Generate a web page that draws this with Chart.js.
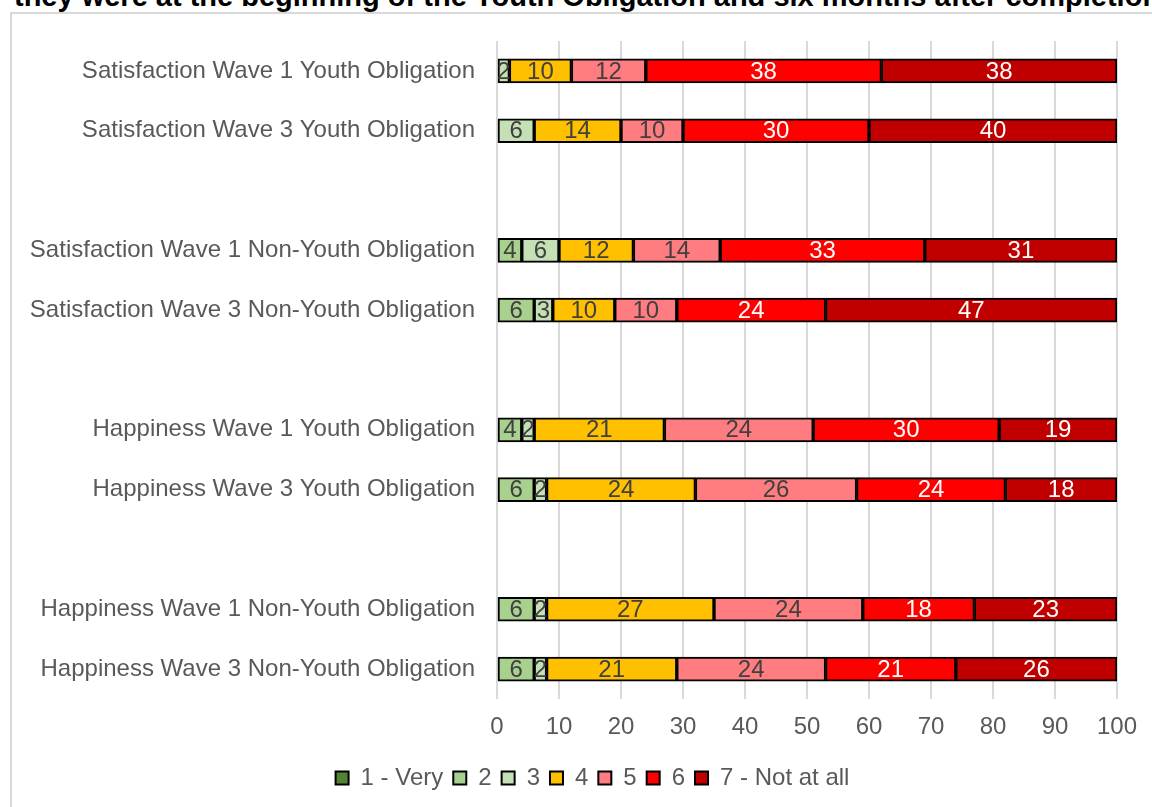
<!DOCTYPE html>
<html>
<head>
<meta charset="utf-8">
<script src="https://cdn.jsdelivr.net/npm/chart.js@4/dist/chart.umd.min.js"></script>
<style>
  html, body { margin: 0; padding: 0; background: #fff; overflow: hidden; }
  #wrap { position: relative; width: 1152px; height: 807px; }
  #frame { position: absolute; left: 10px; top: 12px; width: 1200px; height: 900px; border: 2px solid #D9D9D9; box-sizing: border-box; }
  #title { position: absolute; left: 14px; top: -20px; white-space: nowrap; font: bold 29px "Liberation Sans", Arial, sans-serif; line-height: 32px; color: #000; }
  #chart { position: absolute; left: 0; top: 0; }
</style>
</head>
<body>
<div id="wrap">
  <div id="frame"></div>
  <div id="title">they were at the beginning of the Youth Obligation and six months after completion</div>
  <canvas id="chart" width="1152" height="807"></canvas>
</div>
<script>
// categories (blank entries are the gaps between groups)
const categories = [
    "Satisfaction Wave 1 Youth Obligation",
    "Satisfaction Wave 3 Youth Obligation",
    "",
    "Satisfaction Wave 1 Non-Youth Obligation",
    "Satisfaction Wave 3 Non-Youth Obligation",
    "",
    "Happiness Wave 1 Youth Obligation",
    "Happiness Wave 3 Youth Obligation",
    "",
    "Happiness Wave 1 Non-Youth Obligation",
    "Happiness Wave 3 Non-Youth Obligation"
];

const seriesNames = ["1 - Very", "2", "3", "4", "5", "6", "7 - Not at all"];
const seriesColors = ["#548235", "#A9D18E", "#C5E0B4", "#FFC000", "#FF7C80", "#FF0000", "#C00000"];
const labelColors = ["#404040", "#404040", "#404040", "#404040", "#404040", "#FFFFFF", "#FFFFFF"];

// percentages per series, one entry per category
const s1 = [0, 0, null, 0, 0, null, 0, 0, null, 0, 0];
const s2 = [0, 0, null, 4, 6, null, 4, 6, null, 6, 6];
const s3 = [2, 6, null, 6, 3, null, 2, 2, null, 2, 2];
const s4 = [10, 14, null, 12, 10, null, 21, 24, null, 27, 21];
const s5 = [12, 10, null, 14, 10, null, 24, 26, null, 24, 24];
const s6 = [38, 30, null, 33, 24, null, 30, 24, null, 18, 21];
const s7 = [38, 40, null, 31, 47, null, 19, 18, null, 23, 26];
const seriesValues = [s1, s2, s3, s4, s5, s6, s7];

const xTicks = [0, 10, 20, 30, 40, 50, 60, 70, 80, 90, 100];

const FONT = '"Liberation Sans", Arial, sans-serif';

// draws the value in the middle of each segment
const segmentLabels = {
    id: "segmentLabels",
    afterDatasetsDraw(chart) {
        const ctx = chart.ctx;
        ctx.save();
        ctx.font = "24px " + FONT;
        ctx.textAlign = "center";
        ctx.textBaseline = "middle";
        chart.data.datasets.forEach((ds, i) => {
            const meta = chart.getDatasetMeta(i);
            meta.data.forEach((bar, j) => {
                const v = ds.data[j];
                if (!v) return;
                ctx.fillStyle = labelColors[i];
                ctx.fillText(String(v), (bar.x + bar.base) / 2, bar.y + 1);
            });
        });
        ctx.restore();
    }
};

// legend in the original is centred a bit right of the canvas centre
const shiftLegend = {
    id: "shiftLegend",
    beforeDraw(chart) {
        if (chart.legend) chart.legend.left = 68;
    }
};

const datasets = seriesNames.map((name, i) => ({
    label: name,
    data: seriesValues[i],
    backgroundColor: seriesColors[i],
    borderColor: "#000000",
    borderWidth: 2,
    borderSkipped: false,
    barThickness: 24
}));

new Chart(document.getElementById("chart"), {
    type: "bar",
    data: { labels: categories, datasets: datasets },
    plugins: [segmentLabels, shiftLegend],
    options: {
        indexAxis: "y",
        responsive: false,
        animation: false,
        layout: { padding: { top: 41, right: 35, bottom: 7, left: 0 } },
        scales: {
            x: {
                stacked: true,
                min: 0,
                max: 100,
                afterBuildTicks: scale => { scale.ticks = xTicks.map(v => ({ value: v })); },
                afterFit: scale => { scale.height = 57; },
                grid: { color: "#D9D9D9", lineWidth: 2, drawTicks: false },
                border: { display: false },
                ticks: { color: "#595959", font: { size: 24, family: FONT }, padding: 14 }
            },
            y: {
                stacked: true,
                afterFit: scale => { scale.width = 497; },
                grid: { display: false },
                border: { display: false },
                ticks: { color: "#595959", font: { size: 24, family: FONT }, padding: 14, autoSkip: false }
            }
        },
        plugins: {
            legend: {
                position: "bottom",
                labels: {
                    color: "#595959",
                    font: { size: 24, family: FONT },
                    boxWidth: 13,
                    boxHeight: 13,
                    padding: 10
                }
            },
            tooltip: { enabled: false }
        }
    }
});
</script>
</body>
</html>
